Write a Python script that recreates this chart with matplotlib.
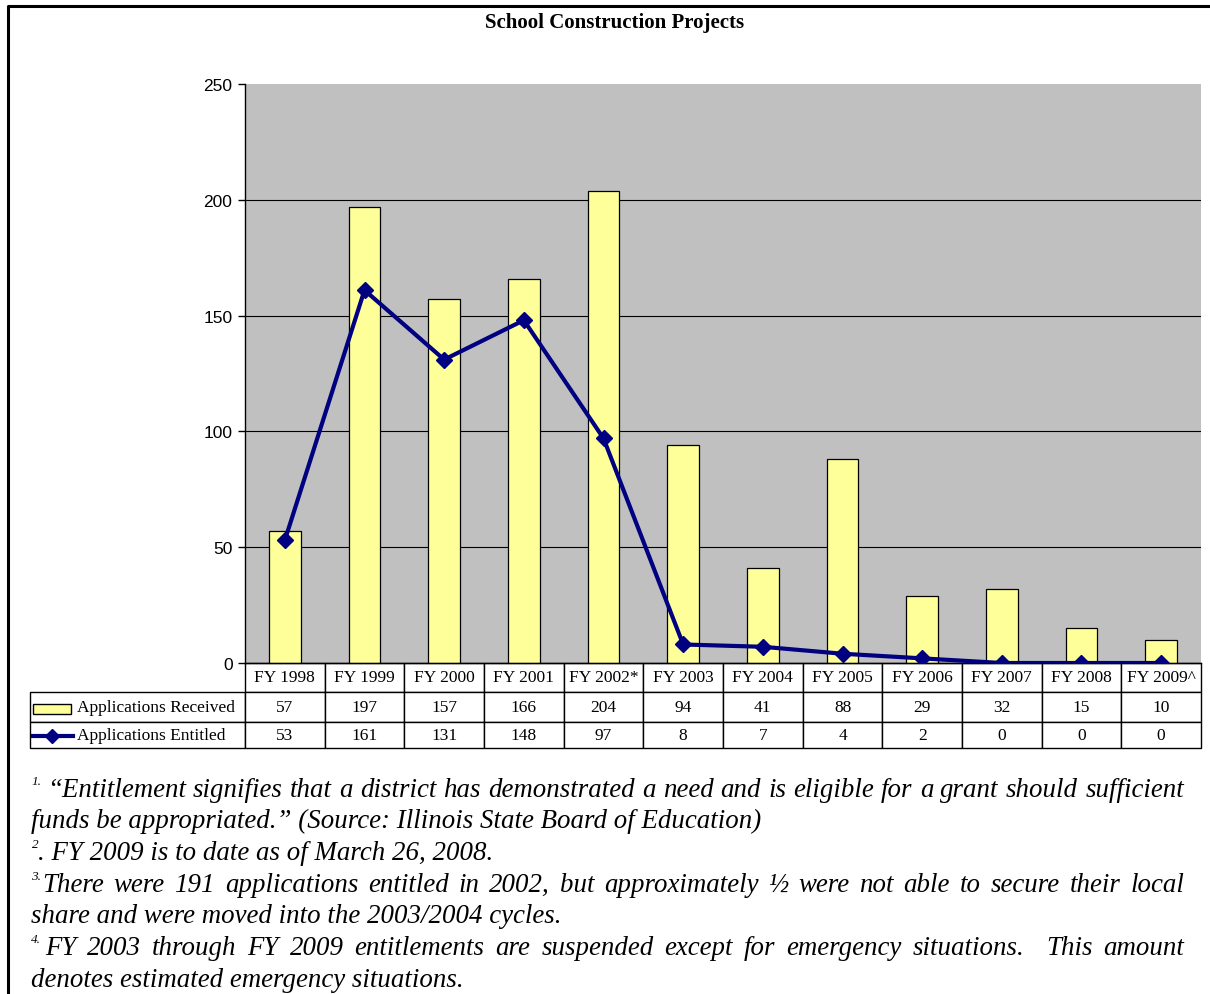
import matplotlib
matplotlib.use("Agg")
import numpy as np
from matplotlib import pyplot as plt
from matplotlib.table import Table
from matplotlib.patches import Rectangle
from matplotlib.lines import Line2D

W, H = 1210, 995

years = ["FY 1998", "FY 1999", "FY 2000", "FY 2001", "FY 2002*", "FY 2003",
         "FY 2004", "FY 2005", "FY 2006", "FY 2007", "FY 2008", "FY 2009^"]
received = [57, 197, 157, 166, 204, 94, 41, 88, 29, 32, 15, 10]
entitled = [53, 161, 131, 148, 97, 8, 7, 4, 2, 0, 0, 0]
yticks = [0, 50, 100, 150, 200, 250]

BAR = "#FFFF99"
NAVY = "#000080"
SERIF = "Liberation Serif"


def fx(x):
    return x / W


def fy(y):
    return 1 - y / H


fig = plt.figure(figsize=(W / 100, H / 100), dpi=100)
ax = fig.add_axes([fx(245), fy(664), (1201 - 245) / W, (664 - 85) / H])
ax.set_facecolor("#C0C0C0")

x = np.arange(len(years))
for v in yticks[1:-1]:
    ax.axhline(v, color="black", lw=0.8, zorder=1)
ax.bar(x, received, width=0.4, color=BAR, edgecolor="black", lw=0.9, zorder=2)
ax.plot(x, entitled, color=NAVY, lw=3, marker="D", ms=8.5, zorder=3)

ax.set_xlim(-0.5, len(years) - 0.5)
ax.set_ylim(0, 250)
ax.set_yticks(yticks)
ax.set_xticks([])
for s in ["top", "right"]:
    ax.spines[s].set_visible(False)
ax.spines["left"].set_linewidth(1)
ax.spines["bottom"].set_linewidth(1)
ax.tick_params(axis="y", length=5, width=1, pad=4, labelsize=12.5)
for lab in ax.get_yticklabels():
    lab.set_fontfamily("Liberation Sans")

# data table under the plot
col_w = [215] + [956 / len(years)] * len(years)
row_h = [28.5, 29.7, 26.3]
tb = Table(ax, bbox=[(30 - 245) / 956, (664 - 749) / 579, (1201 - 30) / 956, (749 - 664) / 579])
rows = [[""] + years,
        ["Applications Received"] + [str(v) for v in received],
        ["Applications Entitled"] + [str(v) for v in entitled]]
for r, vals in enumerate(rows):
    for c, t in enumerate(vals):
        loc = "left" if c == 0 else "center"
        cell = tb.add_cell(r, c, width=col_w[c], height=row_h[r], text=t, loc=loc,
                           facecolor="white", edgecolor="black")
        cell.set_linewidth(1)
        cell.get_text().set_fontfamily(SERIF)
        if c == 0:
            cell.PAD = 47 / 215
tb[0, 0].visible_edges = "open"
tb[0, 0].set_facecolor("none")
tb.auto_set_font_size(False)
tb.set_fontsize(12.5)
ax.add_table(tb)

# legend keys inside the table
fig.add_artist(Rectangle((fx(33), fy(715)), (71 - 33) / W, (715 - 705) / H,
                         transform=fig.transFigure, facecolor=BAR, edgecolor="black", lw=1))
fig.add_artist(Line2D([fx(33), fx(73)], [fy(737), fy(737)], color=NAVY, lw=3,
                      transform=fig.transFigure))
fig.add_artist(Line2D([fx(52)], [fy(737)], color=NAVY, marker="D", ms=7.5, lw=0,
                      transform=fig.transFigure))

# frame
fig.add_artist(Line2D([fx(8), fx(8), 1], [0, fy(7), fy(7)], color="black", lw=2.2,
                      transform=fig.transFigure))

fig.text(fx(615), fy(23), "School Construction Projects", ha="center", va="center",
         fontsize=15, fontweight="bold", family=SERIF)

# footnotes
note_kw = dict(fontsize=19.4, style="italic", family=SERIF, va="baseline", ha="left")
sup_kw = dict(fontsize=9.5, style="italic", family=SERIF, va="baseline", ha="left")
renderer = fig.canvas.get_renderer()


def justified(text, x0, x1, y):
    words = text.split(" ")
    arts = [fig.text(0, fy(y), w, **note_kw) for w in words]
    widths = [a.get_window_extent(renderer).width for a in arts]
    gap = (x1 - x0 - sum(widths)) / (len(words) - 1)
    pos = x0
    for a, w in zip(arts, widths):
        a.set_x(fx(pos))
        pos += w + gap


fig.text(fx(32), fy(785), "1.", **sup_kw)
justified("\u201cEntitlement signifies that a district has demonstrated a need and is "
          "eligible for a grant should sufficient", 47, 1184, 797)
fig.text(fx(31), fy(828), "funds be appropriated.\u201d (Source: Illinois State Board of Education)",
         **note_kw)
fig.text(fx(32), fy(848), "2", **sup_kw)
fig.text(fx(38), fy(860), ". FY 2009 is to date as of March 26, 2008.", **note_kw)
fig.text(fx(31), fy(880), "3.", **sup_kw)
justified("There were 191 applications entitled in 2002, but approximately \u00bd were "
          "not able to secure their local", 42, 1184, 892)
fig.text(fx(31), fy(923), "share and were moved into the 2003/2004 cycles.", **note_kw)
fig.text(fx(31), fy(943), "4.", **sup_kw)
justified("FY 2003 through FY 2009 entitlements are suspended except for emergency "
          "situations.  This amount", 45, 1184, 955)
fig.text(fx(31), fy(987), "denotes estimated emergency situations.", **note_kw)

fig.savefig("out.png", dpi=100)
